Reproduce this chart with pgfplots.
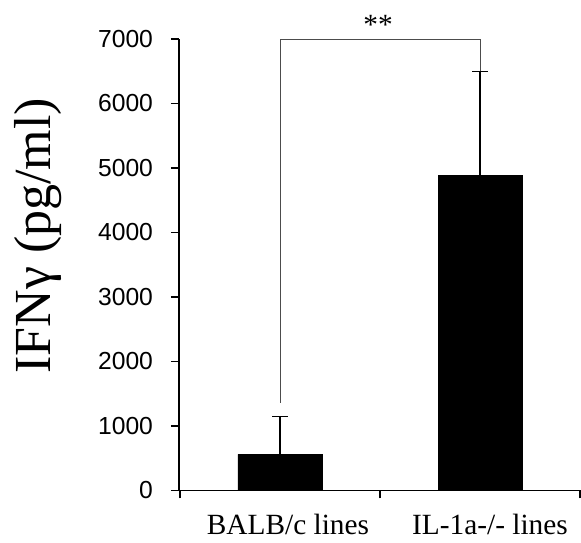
\documentclass[border=0pt]{standalone}
\usepackage{fontspec}
\setmainfont{Liberation Serif}
\newfontfamily\ticksans{Liberation Sans}
\usepackage{pgfplots}
\pgfplotsset{compat=1.18}
\begin{document}
\begin{tikzpicture}
\begin{axis}[
    name=ax,
    scale only axis,
    width=301.5pt,
    height=338.6pt,
    xmin=-0.505, xmax=1.505,
    ymin=0, ymax=7000,
    axis lines=left,
    axis line style={line width=1.1pt, -},
    clip=false,
    ytick={0,1000,...,7000},
    xtick={-0.5,0.5,1.5},
    xticklabels={},
    tick align=outside,
    major tick length=6pt,
    tick style={line width=1.1pt, black},
    /pgf/number format/assume math mode=true,
    /pgf/number format/1000 sep={},
    yticklabel style={font=\ticksans\fontsize{18.5}{18.5}\selectfont, xshift=-10pt},
    ylabel={IFNγ (pg/ml)},
    every axis y label/.style={at={(rel axis cs:0,0.564)}, xshift=-105.75pt, rotate=90, anchor=center, font=\fontsize{39}{39}\selectfont},
]
\addplot[ybar, bar width=63pt, fill=black, draw=black,
    error bars/.cd, y dir=plus, y explicit,
    error bar style={line width=1.1pt, black},
    error mark options={line width=1.1pt, mark size=6pt, rotate=90}]
    coordinates {(0,560) +- (0,590) (1,4890) +- (0,1610)};
\draw[line width=0.7pt, black!70] (axis cs:0,1360) |- (axis cs:1,7000) -- (axis cs:1,6500);
\node[font=\fontsize{22}{22}\selectfont, anchor=south] at (axis cs:0.49,7000) {**};
\node[font=\fontsize{22}{22}\selectfont, anchor=north] at (axis cs:0.04,-300) {BALB/c lines};
\node[font=\fontsize{22}{22}\selectfont, anchor=north] at (axis cs:1.05,-300) {IL-1a-/- lines};
\coordinate (ll) at (rel axis cs:0,0);
\coordinate (ur) at (rel axis cs:1,1);
\end{axis}
\pgfresetboundingbox
\path ([xshift=-134.25pt,yshift=-39.4pt]ll) rectangle ([yshift=29.25pt]ur);
\end{tikzpicture}
\end{document}
